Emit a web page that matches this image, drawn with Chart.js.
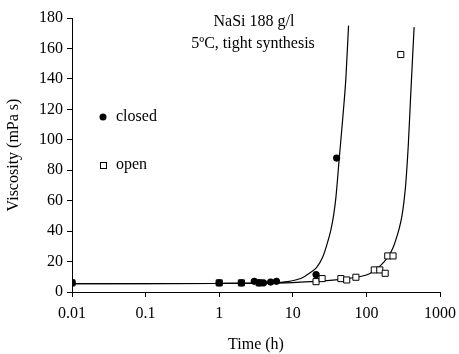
<!DOCTYPE html>
<html>
<head>
<meta charset="utf-8">
<script src="https://cdn.jsdelivr.net/npm/chart.js@4/dist/chart.umd.min.js"></script>
<style>
  html, body { margin: 0; padding: 0; background: #fff; }
  #wrap { width: 459px; height: 354px; }
</style>
</head>
<body>
<div id="wrap"><canvas id="c" width="459" height="354"></canvas></div>
<script>
// Measured viscosity, closed vessel (time in h, viscosity in mPa s)
const closedTime = [0.01, 1, 2, 3, 3.5, 4, 5, 6, 20.7, 39.4];
const closedVisc = [6, 6, 6, 7, 6, 6, 6.5, 7, 11.5, 88];

// Measured viscosity, open vessel
const openTime = [0.01, 1, 2, 3.5, 20.7, 25, 45, 54, 72, 128, 152, 180, 195, 230, 293];
const openVisc = [6, 6, 6, 6, 6.8, 8.8, 8.8, 7.9, 9.7, 14.5, 14.5, 12.3, 23.7, 23.7, 156];

// Fitted gelation curves
const closedFitTime = [0.01, 0.1, 1, 3, 6, 9, 13, 16.8, 21, 25.5, 29, 33, 36, 38.5, 42.8, 47.5, 52.7, 57.2];
const closedFitVisc = [5.5, 5.5, 5.6, 5.8, 6.2, 7, 9, 12.3, 16, 23, 31, 41, 51, 62, 88, 113, 141, 175];

const openFitTime = [0.01, 1, 10, 20, 35, 50, 80, 110, 141, 175, 204, 230, 251, 280, 303, 325, 343, 372, 401, 425, 445];
const openFitVisc = [5.5, 5.6, 6.2, 7, 7.8, 8.6, 10, 12, 15.6, 20, 24.3, 29, 34.2, 42, 49.5, 60, 71.4, 97.7, 130.5, 155, 174];

// Axis ticks
const xTicks = [0.01, 0.1, 1, 10, 100, 1000];
const yMin = 0, yMax = 180, yStep = 20;

const toXY = (xs, ys) => xs.map((x, i) => ({ x: x, y: ys[i] }));

const FONT = "'Liberation Serif', 'Times New Roman', serif";

const textPlugin = {
  id: 'labels',
  afterDraw(chart) {
    const ctx = chart.ctx;
    ctx.save();
    ctx.fillStyle = '#000';
    ctx.font = '16px ' + FONT;
    ctx.textAlign = 'center';
    ctx.textBaseline = 'middle';
    ctx.fillText('NaSi 188 g/l', 254, 22);
    ctx.fillText('5\u00baC, tight synthesis', 253, 44);

    // key
    ctx.textAlign = 'left';
    ctx.beginPath();
    ctx.arc(103, 117, 3.5, 0, Math.PI * 2);
    ctx.fill();
    ctx.fillText('closed', 116, 117);
    ctx.lineWidth = 1;
    ctx.strokeStyle = '#000';
    ctx.strokeRect(100.5, 162.5, 6, 6);
    ctx.fillText('open', 116, 165);
    ctx.restore();
  }
};

new Chart(document.getElementById('c'), {
  type: 'scatter',
  data: {
    datasets: [
      {
        label: 'closed',
        data: toXY(closedTime, closedVisc),
        pointStyle: 'circle',
        pointRadius: 3.6,
        backgroundColor: '#000',
        borderColor: '#000',
        borderWidth: 0,
        showLine: false
      },
      {
        label: 'open',
        data: toXY(openTime, openVisc),
        pointStyle: 'rect',
        pointRadius: 4.3,
        backgroundColor: '#fff',
        borderColor: '#000',
        borderWidth: 1,
        showLine: false
      },
      {
        label: 'closed fit',
        data: toXY(closedFitTime, closedFitVisc),
        showLine: true,
        pointRadius: 0,
        borderColor: '#000',
        borderWidth: 1.2,
        cubicInterpolationMode: 'monotone'
      },
      {
        label: 'open fit',
        data: toXY(openFitTime, openFitVisc),
        showLine: true,
        pointRadius: 0,
        borderColor: '#000',
        borderWidth: 1.2,
        cubicInterpolationMode: 'monotone'
      }
    ]
  },
  options: {
    responsive: false,
    animation: false,
    layout: { padding: { top: 18, right: 19, left: 0, bottom: 0 } },
    plugins: {
      legend: { display: false },
      tooltip: { enabled: false }
    },
    scales: {
      x: {
        type: 'logarithmic',
        min: 0.01,
        max: 1000,
        afterBuildTicks(scale) { scale.ticks = xTicks.map(v => ({ value: v })); },
        afterFit(scale) {
          scale.height = 62;
          scale.paddingLeft = 0;
          scale.paddingRight = 0;
        },
        ticks: {
          autoSkip: false,
          maxRotation: 0,
          color: '#000',
          font: { family: FONT, size: 16 },
          padding: 7,
          callback: (v) => String(v)
        },
        grid: { drawOnChartArea: false, drawTicks: true, tickLength: 5, color: '#000' },
        border: { display: true, color: '#000', width: 1 },
        title: {
          display: true,
          text: 'Time (h)',
          color: '#000',
          font: { family: FONT, size: 16 },
          padding: { top: 0, bottom: 0 }
        }
      },
      y: {
        min: yMin,
        max: yMax,
        afterFit(scale) { scale.width = 72; },
        ticks: {
          stepSize: yStep,
          color: '#000',
          font: { family: FONT, size: 16 },
          padding: 4
        },
        grid: { drawOnChartArea: false, drawTicks: true, tickLength: 5, color: '#000' },
        border: { display: true, color: '#000', width: 1 },
        title: {
          display: true,
          text: 'Viscosity (mPa s)',
          color: '#000',
          font: { family: FONT, size: 16 },
          padding: { top: 4, bottom: 0 }
        }
      }
    }
  },
  plugins: [textPlugin]
});
</script>
</body>
</html>
